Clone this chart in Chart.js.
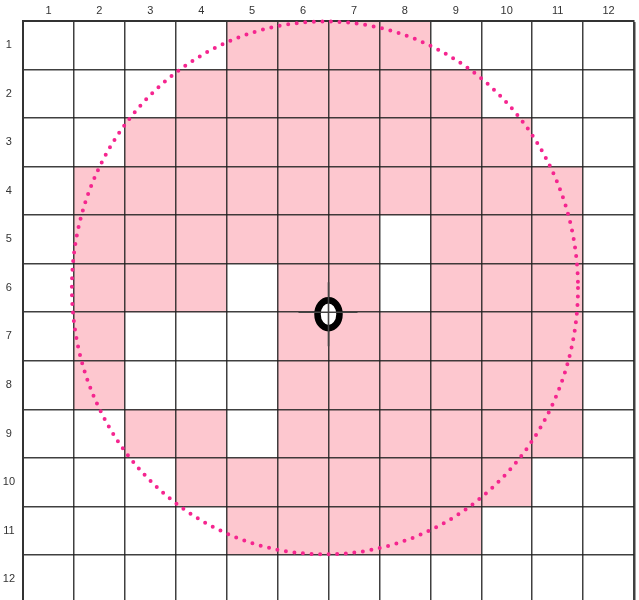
<!DOCTYPE html>
<html>
<head>
<meta charset="utf-8">
<script src="https://cdn.jsdelivr.net/npm/chart.js@4.4.1/dist/chart.umd.min.js"></script>
<style>
  html, body { margin: 0; padding: 0; background: #fff; overflow: hidden; }
  #wrap { width: 639px; height: 618px; }
</style>
</head>
<body>
<div id="wrap"><canvas id="myChart" width="639" height="618"></canvas></div>
<script>
const colLabels = ['1', '2', '3', '4', '5', '6', '7', '8', '9', '10', '11', '12'];
const rowLabels = ['1', '2', '3', '4', '5', '6', '7', '8', '9', '10', '11', '12'];

// filled columns for each row (row 1 first)
const pinkCells = [
    [5, 6, 7, 8],
    [4, 5, 6, 7, 8, 9],
    [3, 4, 5, 6, 7, 8, 9, 10],
    [2, 3, 4, 5, 6, 7, 8, 9, 10, 11],
    [2, 3, 4, 5, 6, 7, 9, 10, 11],
    [2, 3, 4, 6, 7, 9, 10, 11],
    [2, 6, 7, 8, 9, 10, 11],
    [2, 6, 7, 8, 9, 10, 11],
    [3, 4, 6, 7, 8, 9, 10, 11],
    [4, 5, 6, 7, 8, 9, 10],
    [5, 6, 7, 8, 9],
    []
];

// circle in grid units (0 = left / top edge of the grid)
const circleCenter = [5.93, 5.5];
const circleRadius = [4.97, 5.49];
// marker position in grid units
const markerPos = [6, 6];

const ctx = document.getElementById('myChart').getContext('2d');

// grid unit -> pixel (category index is unit - 0.5)
function px(scale, u) {
    return scale.getPixelForValue(u - 0.5);
}

const gridPlugin = {
    id: 'gridCells',
    beforeDraw(chart) {
        const c = chart.ctx;
        const xs = chart.scales.x, ys = chart.scales.y;
        c.save();
        c.fillStyle = '#fdc7cf';
        pinkCells.forEach((cols, r) => {
            cols.forEach(col => {
                const x0 = px(xs, col - 1), x1 = px(xs, col);
                const y0 = px(ys, r), y1 = px(ys, r + 1);
                c.fillRect(x0, y0, x1 - x0, y1 - y0);
            });
        });
        c.restore();
    },
    afterDraw(chart) {
        const c = chart.ctx;
        const xs = chart.scales.x, ys = chart.scales.y;

        // dotted circle
        const cx = px(xs, circleCenter[0]), cy = px(ys, circleCenter[1]);
        const rx = px(xs, circleCenter[0] + circleRadius[0]) - cx;
        const ry = px(ys, circleCenter[1] + circleRadius[1]) - cy;
        c.save();
        c.strokeStyle = '#f5258f';
        c.lineWidth = 4;
        c.lineCap = 'round';
        c.setLineDash([0, 8.6]);
        c.beginPath();
        c.ellipse(cx, cy, rx, ry, 0, 0, Math.PI * 2);
        c.stroke();
        c.restore();

        // centre marker
        const mx = px(xs, markerPos[0]), my = px(ys, markerPos[1]);
        c.save();
        c.fillStyle = '#fff';
        c.strokeStyle = '#000';
        c.lineWidth = 6.5;
        c.beginPath();
        c.ellipse(mx, my + 2, 11, 14, 0, 0, Math.PI * 2);
        c.fill();
        c.stroke();
        c.strokeStyle = '#444';
        c.lineWidth = 1.6;
        c.beginPath();
        c.moveTo(mx - 30, my);
        c.lineTo(mx + 29, my);
        c.moveTo(mx, my - 30);
        c.lineTo(mx, my + 34);
        c.stroke();
        c.restore();
    }
};

function gridWidth(c) {
    return (c.type === 'scale' || c.index === 12) ? 2.5 : 1.5;
}

const chart = new Chart(ctx, {
    type: 'scatter',
    data: { datasets: [] },
    options: {
        responsive: false,
        animation: false,
        layout: { padding: { left: 0, top: 0, right: 5, bottom: 3 } },
        plugins: {
            legend: { display: false },
            tooltip: { enabled: false }
        },
        scales: {
            x: {
                type: 'category',
                labels: colLabels,
                position: 'top',
                offset: true,
                grid: {
                    offset: true,
                    drawTicks: false,
                    color: 'rgba(30,30,30,0.85)',
                    lineWidth: gridWidth
                },
                border: { display: true, color: '#333', width: 2 },
                ticks: {
                    padding: 3,
                    color: '#333',
                    font: { family: 'Liberation Sans, Arial, sans-serif', size: 11 }
                },
                afterFit(s) { s.height = 21; }
            },
            y: {
                type: 'category',
                labels: rowLabels,
                offset: true,
                grid: {
                    offset: true,
                    drawTicks: false,
                    color: 'rgba(30,30,30,0.85)',
                    lineWidth: gridWidth
                },
                border: { display: true, color: '#333', width: 2 },
                ticks: {
                    padding: 8,
                    crossAlign: 'center',
                    color: '#333',
                    font: { family: 'Liberation Sans, Arial, sans-serif', size: 11 }
                },
                afterFit(s) { s.width = 23; }
            }
        }
    },
    plugins: [gridPlugin]
});
</script>
</body>
</html>
